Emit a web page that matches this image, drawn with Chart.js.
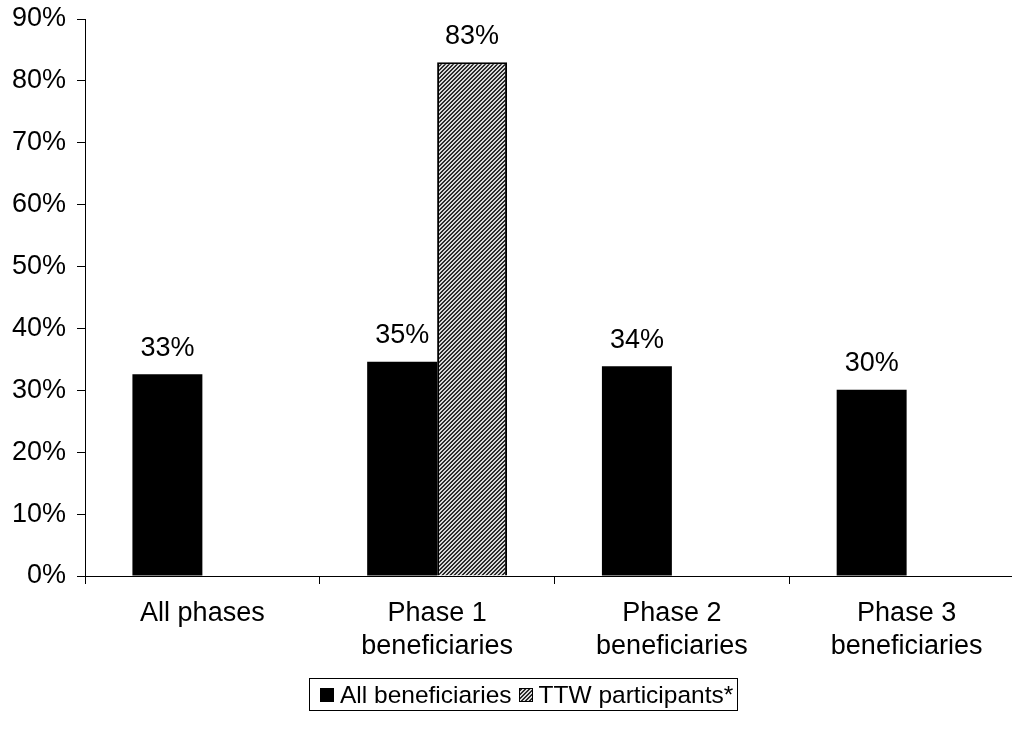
<!DOCTYPE html>
<html>
<head>
<meta charset="utf-8">
<script src="https://cdn.jsdelivr.net/npm/chart.js@4"></script>
<style>
  html, body { margin: 0; padding: 0; background: #fff; overflow: hidden; }
  #wrap { position: relative; width: 1024px; height: 736px; }
  #legend {
    position: absolute; left: 309px; top: 678px; width: 429px; height: 33px;
    border: 1px solid #000; box-sizing: border-box;
    font-family: "Liberation Sans", Arial, sans-serif; font-size: 24.5px;
    display: flex; align-items: center; padding-left: 10px; white-space: nowrap;
  }
  .sw { flex: 0 0 auto; display: inline-block; width: 14px; height: 14px; margin-right: 6px; box-sizing: border-box; }
</style>
</head>
<body>
<div id="wrap">
  <canvas id="chart" width="1024" height="736"></canvas>
  <div id="legend">
    <span class="sw" style="background:#000"></span>All beneficiaries
    <span class="sw" id="sw2" style="border:1px solid #000; margin-left:7px"></span>TTW participants*
  </div>
</div>
<script>
const categories = [['All phases'], ['Phase 1', 'beneficiaries'], ['Phase 2', 'beneficiaries'], ['Phase 3', 'beneficiaries']];
const allBeneficiaries = [32.6, 34.6, 33.9, 30.1];
const ttwParticipants = [null, 83, null, null];
const yTicks = [0, 10, 20, 30, 40, 50, 60, 70, 80, 90];

const FONT = '"Liberation Sans", Arial, sans-serif';

// fine diagonal dither pattern for the TTW bar
function makePattern() {
    const p = document.createElement('canvas');
    p.width = 4; p.height = 4;
    const c = p.getContext('2d');
    c.fillStyle = '#d8d8d8';
    c.fillRect(0, 0, 4, 4);
    c.fillStyle = '#2a2a2a';
    for (let x = 0; x < 4; x++) {
        for (let y = 0; y < 4; y++) {
            if ((x + y) % 4 < 2) c.fillRect(x, y, 1, 1);
        }
    }
    return p;
}
const patCanvas = makePattern();
const ctx = document.getElementById('chart').getContext('2d');
const hatch = ctx.createPattern(patCanvas, 'repeat');
document.getElementById('sw2').style.backgroundImage = 'url(' + patCanvas.toDataURL() + ')';

// value labels above bars
const valueLabels = {
    id: 'valueLabels',
    afterDatasetsDraw(chart) {
        const c = chart.ctx;
        c.save();
        c.font = '27px ' + FONT;
        c.fillStyle = '#000';
        c.textAlign = 'center';
        c.textBaseline = 'middle';
        chart.data.datasets.forEach((ds, i) => {
            chart.getDatasetMeta(i).data.forEach((bar, j) => {
                const v = ds.data[j];
                if (v == null) return;
                c.fillText(Math.round(v) + '%', bar.x, bar.y - 26);
            });
        });
        c.restore();
    }
};

new Chart(ctx, {
    type: 'bar',
    data: {
        labels: categories,
        datasets: [
            { label: 'All beneficiaries', data: allBeneficiaries, backgroundColor: '#000', borderWidth: 0 },
            { label: 'TTW participants*', data: ttwParticipants, backgroundColor: hatch, borderColor: '#000', borderWidth: 2 }
        ]
    },
    options: {
        responsive: false,
        animation: false,
        layout: { padding: { top: 19, left: 0, right: 0, bottom: 0 } },
        categoryPercentage: 0.596,
        barPercentage: 1,
        plugins: { legend: { display: false }, tooltip: { enabled: false } },
        scales: {
            x: {
                afterFit: s => { s.height = 160; s.paddingLeft = 0; s.paddingRight = 0; },
                grid: { offset: true, drawOnChartArea: false, tickLength: 8, color: '#000', tickColor: '#000' },
                border: { color: '#000', width: 1 },
                ticks: { color: '#000', font: { family: FONT, size: 27, lineHeight: 1.22 }, padding: 13, maxRotation: 0 }
            },
            y: {
                min: 0, max: 90,
                afterFit: s => { s.width = 85; s.paddingTop = 0; s.paddingBottom = 0; },
                afterBuildTicks: s => { s.ticks = yTicks.map(v => ({ value: v })); },
                grid: { drawOnChartArea: false, tickLength: 8, color: '#000', tickColor: '#000' },
                border: { color: '#000', width: 1 },
                ticks: { color: '#000', font: { family: FONT, size: 27 }, padding: 11, callback: v => v + '%' }
            }
        }
    },
    plugins: [valueLabels]
});
</script>
</body>
</html>
